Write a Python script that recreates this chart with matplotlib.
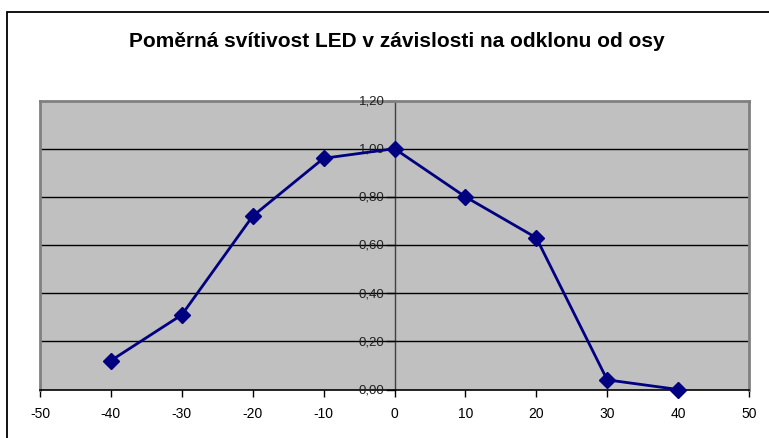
import matplotlib
matplotlib.use("Agg")
import matplotlib.pyplot as plt
from matplotlib.patches import Rectangle

angles = [-40, -30, -20, -10, 0, 10, 20, 30, 40]
intensity = [0.12, 0.31, 0.72, 0.96, 1.00, 0.80, 0.63, 0.04, 0.00]
x_ticks = [-50, -40, -30, -20, -10, 0, 10, 20, 30, 40, 50]
y_ticks = [0.0, 0.2, 0.4, 0.6, 0.8, 1.0, 1.2]
y_labels = ["0,00", "0,20", "0,40", "0,60", "0,80", "1,00", "1,20"]
title = "Poměrná svítivost LED v závislosti na odklonu od osy"

plt.rcParams['font.family'] = ['Liberation Sans', 'DejaVu Sans']

W, H = 769, 439
fig = plt.figure(figsize=(W / 100, H / 100), dpi=100)
fig.patch.set_facecolor("white")

# outer chart border
fig.patches.append(Rectangle((7 / W, -0.05), 1.0, (H - 13) / H + 0.05,
                             transform=fig.transFigure, fill=False,
                             edgecolor="black", linewidth=1.3, zorder=0))

left, right, top, bottom = 40, 749, 101.5, 390.5
ax = fig.add_axes([left / W, (H - bottom) / H, (right - left) / W, (bottom - top) / H])
ax.set_facecolor("#C0C0C0")
ax.set_xlim(-50, 50)
ax.set_ylim(0, 1.2)

for s in ["left", "right", "top"]:
    ax.spines[s].set_color("#808080")
    ax.spines[s].set_linewidth(2)
ax.spines["bottom"].set_color("black")
ax.spines["bottom"].set_linewidth(1.2)

ax.set_yticks(y_ticks)
ax.set_yticklabels([])
ax.tick_params(axis="y", length=0)
for y in y_ticks[1:-1]:
    ax.axhline(y, color="black", linewidth=1, zorder=1)

# y axis at x=0
ax.axvline(0, color="#404040", linewidth=1, zorder=1)
for y, lab in zip(y_ticks, y_labels):
    ax.plot([-1.0, 0], [y, y], color="black", linewidth=1, clip_on=False, zorder=2)
    ax.text(-1.4, y, lab, ha="right", va="center", fontsize=9.5, color="#202020", zorder=3)

ax.set_xticks(x_ticks)
ax.set_xticklabels([str(v) for v in x_ticks], fontsize=10)
ax.tick_params(axis="x", direction="out", length=5, width=1, pad=7, colors="black")

ax.plot(angles, intensity, color="#000080", linewidth=2, marker="D",
        markersize=8, markerfacecolor="#000080", markeredgecolor="#000080",
        zorder=5, clip_on=False)

fig.text(397 / W, 1 - 47 / H, title, ha="center", va="baseline",
         fontsize=15, fontweight="bold")

fig.savefig("out.png", dpi=100)
